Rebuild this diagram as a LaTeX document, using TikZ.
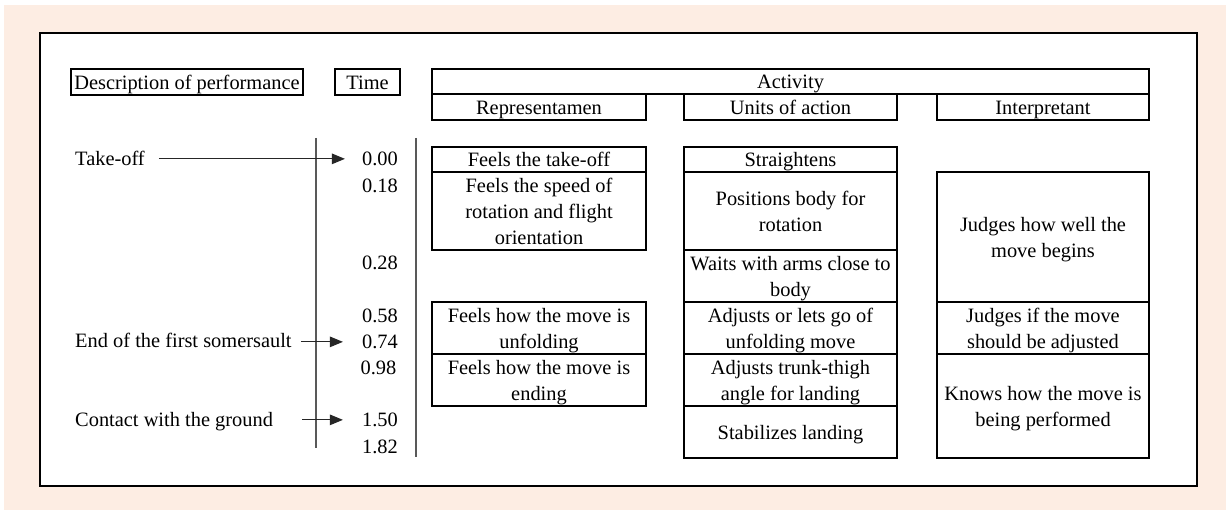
\documentclass[tikz,border=0pt]{standalone}
\usepackage{fontspec}
\setmainfont{Liberation Serif}
\usetikzlibrary{arrows.meta}
\definecolor{peach}{RGB}{253,237,227}
\newcommand{\stt}{\rule[-5pt]{0pt}{25pt}}
\begin{document}
\begin{tikzpicture}[x=1pt,y=-1pt,
  every node/.style={font=\fontsize{20.4pt}{26pt}\selectfont, inner sep=0pt},
  box/.style={draw, line width=1.6pt, align=center},
  rep/.style={box, minimum width=214pt},
  uni/.style={box, minimum width=213pt},
  itp/.style={box, minimum width=212pt},
  lbl/.style={anchor=base west},
  tlbl/.style={anchor=base east},
  arr/.style={line width=1.1pt, draw=black!85, -{Triangle[length=13pt,width=10.5pt]}},
  axisline/.style={line width=1.3pt, draw=black!65}]
\useasboundingbox (0,0) rectangle (1226,510);
\fill[white] (0,0) rectangle (1226,510);
\fill[peach] (4,5) rectangle (1226,510);
\draw[fill=white, line width=2pt] (40,33) rectangle (1197,486);

% header
\node[box, minimum width=232pt, minimum height=26pt] (desc) at (187,82) {\stt Description of performance};
\node[box, minimum width=65pt, minimum height=26pt] (time) at (367.5,82) {\stt Time};
\node[box, minimum width=717pt, minimum height=25pt] (act) at (790.5,81.5) {\stt Activity};
\node[rep, minimum height=26pt] (hrep) at (539,107) {\stt Representamen};
\node[uni, minimum height=26pt] (huni) at (790.5,107) {\stt Units of action};
\node[itp, minimum height=26pt] (hitp) at (1043,107) {\stt Interpretant};

% axis lines
\coordinate (a1t) at (316,138); \coordinate (a1b) at (316,448);
\coordinate (a2t) at (416,138); \coordinate (a2b) at (416,457);
\draw[axisline] (a1t) -- (a1b);
\draw[axisline] (a2t) -- (a2b);

% left labels
\node[lbl] (takeoff) at (75,165.5) {Take-off};
\node[lbl] (endfirst) at (75,348) {End of the first somersault};
\node[lbl] (contact) at (75,426.5) {Contact with the ground};

% time labels
\node[tlbl] (t000) at (398,165.5) {0.00};
\node[tlbl] (t018) at (398,193) {0.18};
\node[tlbl] (t028) at (398,270) {0.28};
\node[tlbl] (t058) at (398,323) {0.58};
\node[tlbl] (t074) at (398,348.5) {0.74};
\node[tlbl] (t098) at (396.5,374) {0.98};
\node[tlbl] (t150) at (398,426.5) {1.50};
\node[tlbl] (t182) at (398,453) {1.82};

% arrows
\draw[arr, shorten <=14pt, shorten >=17pt] (takeoff.east |- t000.west) -- (t000.west);
\draw[arr, shorten <=9pt, shorten >=19pt] (endfirst.east |- t074.west) -- (t074.west);
\draw[arr, shorten <=29pt, shorten >=19pt] (contact.east |- t150.west) -- (t150.west);

% Representamen
\node[rep, minimum height=25pt] (r1) at (539,159.5) {\stt Feels the take-off};
\node[rep, minimum height=78pt] (r2) at (539,211) {\stt Feels the speed of\\\stt rotation and flight\\\stt orientation};
\node[rep, minimum height=52pt] (r3) at (539,328) {\stt Feels how the move is\\\stt unfolding};
\node[rep, minimum height=52pt] (r4) at (539,380) {\stt Feels how the move is\\\stt ending};

% Units of action
\node[uni, minimum height=25pt] (u1) at (790.5,159.5) {\stt Straightens};
\node[uni, minimum height=78pt] (u2) at (790.5,211) {\stt Positions body for\\\stt rotation};
\node[uni, minimum height=52pt] (u3) at (790.5,276) {\stt Waits with arms close to\\\stt body};
\node[uni, minimum height=52pt] (u4) at (790.5,328) {\stt Adjusts or lets go of\\\stt unfolding move};
\node[uni, minimum height=52pt] (u5) at (790.5,380) {\stt Adjusts trunk-thigh\\\stt angle for landing};
\node[uni, minimum height=52pt] (u6) at (790.5,432) {\stt Stabilizes landing};

% Interpretant
\node[itp, minimum height=130pt] (i1) at (1043,237) {\stt Judges how well the\\\stt move begins};
\node[itp, minimum height=52pt] (i2) at (1043,328) {\stt Judges if the move\\\stt should be adjusted};
\node[itp, minimum height=104pt] (i3) at (1043,406) {\stt Knows how the move is\\\stt being performed};
\end{tikzpicture}
\end{document}
